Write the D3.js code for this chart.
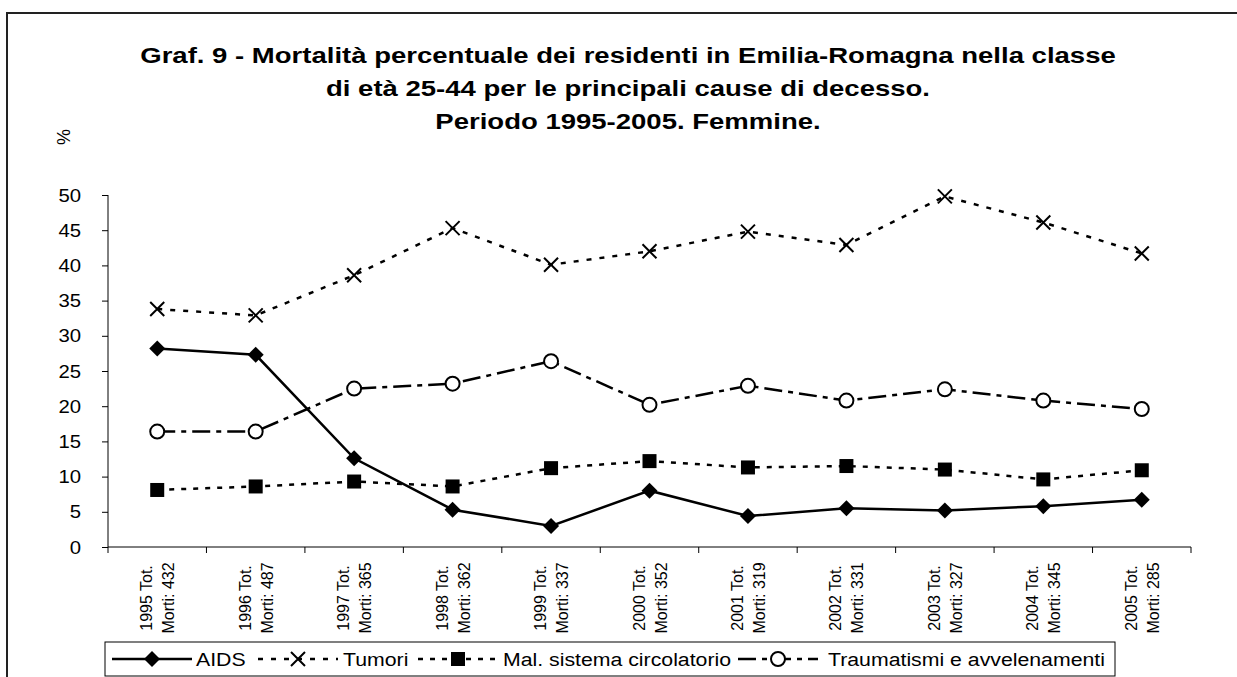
<!DOCTYPE html>
<html>
<head>
<meta charset="utf-8">
<script src="https://d3js.org/d3.v7.min.js"></script>
<style>
  body { margin: 0; background: #fff; }
  text { font-family: "Liberation Sans", Arial, sans-serif; fill: #000; }
</style>
</head>
<body>
<div id="chart"></div>
<script>
// categories (two lines each, as in the source)
var anni = ["1995", "1996", "1997", "1998", "1999", "2000", "2001", "2002", "2003", "2004", "2005"];
var totMorti = [432, 487, 365, 362, 337, 352, 319, 331, 327, 345, 285];

// series (% of deaths)
var aids = [28.2, 27.3, 12.6, 5.3, 3.0, 8.0, 4.4, 5.5, 5.2, 5.8, 6.7];
var tumori = [33.8, 32.9, 38.6, 45.3, 40.1, 42.0, 44.8, 42.9, 49.8, 46.1, 41.7];
var circolatorio = [8.1, 8.6, 9.3, 8.6, 11.2, 12.2, 11.3, 11.5, 11.0, 9.6, 10.9];
var traumatismi = [16.4, 16.4, 22.5, 23.2, 26.4, 20.2, 22.9, 20.8, 22.4, 20.8, 19.6];

var yTicks = [0, 5, 10, 15, 20, 25, 30, 35, 40, 45, 50];

var titolo = [
  "Graf. 9 - Mortalità percentuale dei residenti in Emilia-Romagna nella classe",
  "di età 25-44 per le principali cause di decesso.",
  "Periodo 1995-2005. Femmine."
];

var series = [
  { name: "AIDS", values: aids, dash: null, marker: "diamond" },
  { name: "Tumori", values: tumori, dash: "5,8", marker: "cross" },
  { name: "Mal. sistema circolatorio", values: circolatorio, dash: "5,7", marker: "square" },
  { name: "Traumatismi e avvelenamenti", values: traumatismi, dash: "18,6,5,6", marker: "circle" }
];

var W = 1237, H = 677;
var plot = { left: 108, right: 1191, top: 195, bottom: 547 };

var svg = d3.select("#chart").append("svg")
  .attr("width", W).attr("height", H);

// outer frame
svg.append("rect")
  .attr("x", 7).attr("y", 13).attr("width", 1250).attr("height", 700)
  .attr("fill", "none").attr("stroke", "#222").attr("stroke-width", 2);

// title: the source draws it wider than the font, so stretch it horizontally
svg.append("g").selectAll("text")
  .data(titolo).enter().append("text")
  .attr("transform", function(d, i) { return "translate(628," + (63 + i * 33) + ") scale(1.28,1)"; })
  .attr("text-anchor", "middle")
  .style("font-size", "21.5px").style("font-weight", "bold")
  .text(function(d) { return d; });

// % label
svg.append("text")
  .attr("transform", "translate(70,145) rotate(-90)")
  .style("font-size", "18px")
  .text("%");

var x = d3.scaleBand().domain(anni).range([plot.left, plot.right]);
var y = d3.scaleLinear().domain([0, 50]).range([plot.bottom, plot.top]);

// y axis
var yAxis = svg.append("g")
  .attr("transform", "translate(" + plot.left + ",0)")
  .call(d3.axisLeft(y).tickValues(yTicks).tickSize(6).tickPadding(0));
yAxis.selectAll("line, path").attr("stroke", "#000");
yAxis.select(".domain").attr("d", "M0," + plot.top + "V" + plot.bottom);
yAxis.selectAll("text")
  .attr("x", null).attr("dy", null)
  .attr("transform", "translate(-27,6) scale(1.13,1)")
  .attr("font-family", null).attr("font-size", null)
  .style("font-size", "18px");

// x axis: ticks at category boundaries
var xg = svg.append("g").attr("transform", "translate(0," + plot.bottom + ")");
xg.append("line")
  .attr("x1", plot.left).attr("x2", plot.right)
  .attr("stroke", "#000");
xg.selectAll(".tk").data(anni.concat(["end"])).enter().append("line")
  .attr("x1", function(d, i) { return plot.left + i * x.step(); })
  .attr("x2", function(d, i) { return plot.left + i * x.step(); })
  .attr("y1", 0).attr("y2", 6)
  .attr("stroke", "#000");

var lbl = xg.selectAll(".lbl").data(anni).enter().append("text")
  .attr("transform", function(d) {
    return "translate(" + (x(d) + x.bandwidth() / 2) + ",51) rotate(-90)";
  })
  .attr("text-anchor", "middle")
  .style("font-size", "16px");
lbl.append("tspan").attr("x", 0).attr("y", -5)
  .text(function(d) { return d + " Tot."; });
lbl.append("tspan").attr("x", 0).attr("y", 17)
  .text(function(d, i) { return "Morti:  " + totMorti[i]; });

// markers
function drawMarker(g, type, cx, cy) {
  if (type === "diamond") {
    g.append("path")
      .attr("d", "M" + cx + "," + (cy - 8) + "L" + (cx + 8) + "," + cy + "L" + cx + "," + (cy + 8) + "L" + (cx - 8) + "," + cy + "Z")
      .attr("fill", "#000");
  } else if (type === "square") {
    g.append("rect")
      .attr("x", cx - 7).attr("y", cy - 7).attr("width", 14).attr("height", 14)
      .attr("fill", "#000");
  } else if (type === "circle") {
    g.append("circle")
      .attr("cx", cx).attr("cy", cy).attr("r", 7)
      .attr("fill", "#fff").attr("stroke", "#000").attr("stroke-width", 2);
  } else if (type === "cross") {
    g.append("path")
      .attr("d", "M" + (cx - 7) + "," + (cy - 7) + "L" + (cx + 7) + "," + (cy + 7) + "M" + (cx + 7) + "," + (cy - 7) + "L" + (cx - 7) + "," + (cy + 7))
      .attr("stroke", "#000").attr("stroke-width", 2).attr("fill", "none");
  }
}

var line = d3.line()
  .x(function(d, i) { return x(anni[i]) + x.bandwidth() / 2; })
  .y(function(d) { return y(d); });

series.forEach(function(s) {
  var g = svg.append("g");
  g.append("path")
    .datum(s.values)
    .attr("fill", "none")
    .attr("stroke", "#000")
    .attr("stroke-width", 2.5)
    .attr("stroke-dasharray", s.dash)
    .attr("d", line);
  s.values.forEach(function(v, i) {
    drawMarker(g, s.marker, x(anni[i]) + x.bandwidth() / 2, y(v));
  });
});

// legend
var leg = svg.append("g");
leg.append("rect")
  .attr("x", 105).attr("y", 642).attr("width", 1010).attr("height", 34)
  .attr("fill", "#fff").attr("stroke", "#000");
var legX = [112, 258, 418, 738];
var legTextX = [196, 343, 503, 828];
series.forEach(function(s, i) {
  var lx = legX[i], ly = 659;
  leg.append("line")
    .attr("x1", lx).attr("x2", lx + 80).attr("y1", ly).attr("y2", ly)
    .attr("stroke", "#000").attr("stroke-width", 2.5)
    .attr("stroke-dasharray", s.dash);
  drawMarker(leg, s.marker, lx + 40, ly);
  leg.append("text")
    .attr("transform", "translate(" + legTextX[i] + "," + (ly + 7) + ") scale(1.12,1)")
    .style("font-size", "19px")
    .text(s.name);
});
</script>
</body>
</html>
